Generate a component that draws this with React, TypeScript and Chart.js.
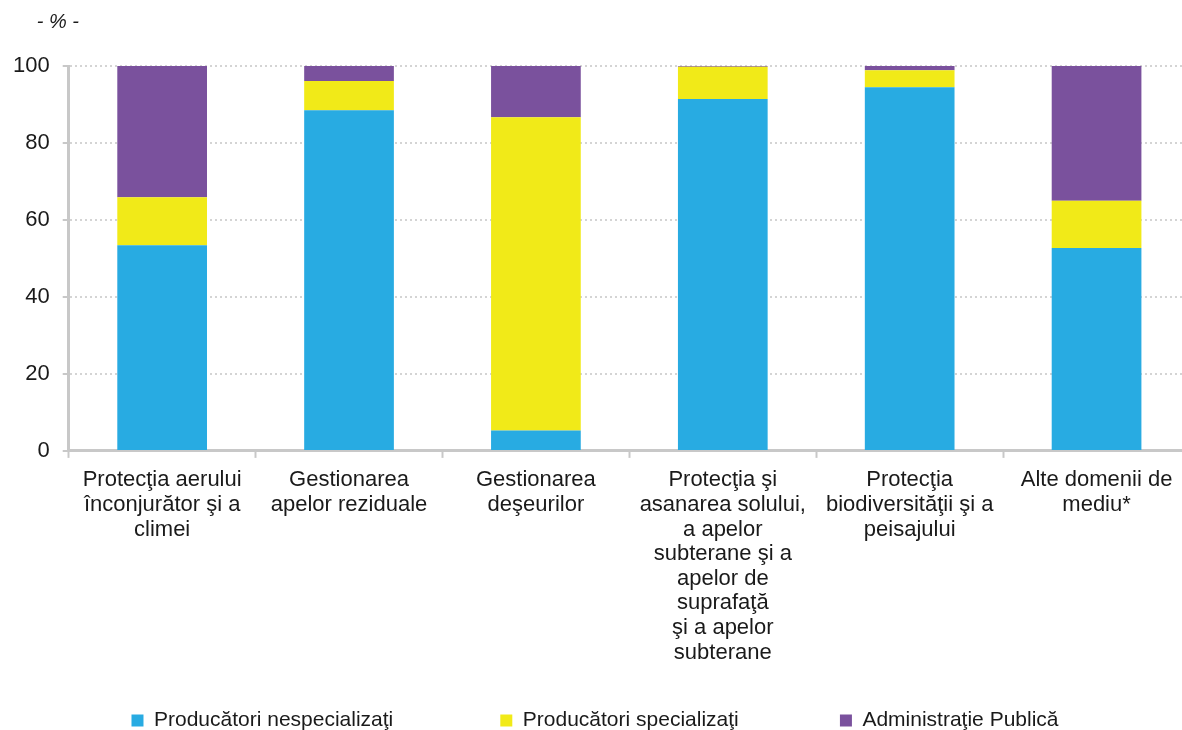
import React, { useEffect, useRef } from "react";
import { Chart, registerables } from "chart.js";

Chart.register(...registerables);

const categories: string[][] = [
  ["Protecţia aerului", "înconjurător şi a", "climei"],
  ["Gestionarea", "apelor reziduale"],
  ["Gestionarea", "deşeurilor"],
  ["Protecţia şi", "asanarea solului,", "a apelor", "subterane şi a", "apelor de", "suprafaţă", "şi a apelor", "subterane"],
  ["Protecţia", "biodiversităţii şi a", "peisajului"],
  ["Alte domenii de", "mediu*"],
];

const seriesNames = ["Producători nespecializaţi", "Producători specializaţi", "Administraţie Publică"];
const nespecializati = [53.4, 88.5, 5.3, 91.4, 94.5, 52.7];
const specializati = [12.5, 7.6, 81.4, 8.4, 4.4, 12.3];
const administratie = [34.1, 3.9, 13.3, 0.2, 1.1, 35.0];
const yTicks = [0, 20, 40, 60, 80, 100];
const unitLabel = "- % -";

const FONT = '"Liberation Sans", Arial, Helvetica, sans-serif';
const legendTrailing = [18, 17, 0];

export default function App() {
  const ref = useRef<HTMLCanvasElement | null>(null);

  useEffect(() => {
    if (!ref.current) return;
    const unitPlugin = {
      id: "unitLabel",
      afterDraw(chart: any) {
        const ctx = chart.ctx;
        ctx.save();
        ctx.font = `italic 20px ${FONT}`;
        ctx.fillStyle = "#1a1a1a";
        ctx.textBaseline = "middle";
        ctx.textAlign = "left";
        ctx.fillText(unitLabel, chart.chartArea.left - 32, 22);
        ctx.restore();
      },
    };
    const chart = new Chart(ref.current, {
      type: "bar",
      data: {
        labels: categories,
        datasets: [
          { label: seriesNames[0], data: nespecializati, backgroundColor: "#28ABE2" },
          { label: seriesNames[1], data: specializati, backgroundColor: "#F1EA18" },
          { label: seriesNames[2], data: administratie, backgroundColor: "#7A519D" },
        ],
      },
      options: {
        responsive: false,
        animation: false,
        devicePixelRatio: 1,
        layout: { padding: { top: 66, left: 0, right: 5, bottom: -11 } },
        datasets: { bar: { categoryPercentage: 1, barPercentage: 0.48 } },
        plugins: {
          tooltip: { enabled: false },
          title: { display: false },
          legend: {
            position: "bottom",
            labels: {
              boxWidth: 12,
              boxHeight: 12,
              padding: 2,
              color: "#1a1a1a",
              font: { family: FONT, size: 21 },
              generateLabels(chart: any) {
                const items = Chart.defaults.plugins.legend.labels.generateLabels(chart);
                return items.map((it: any, i: number) => ({
                  ...it,
                  text: it.text + "\u00A0".repeat(legendTrailing[i] || 0),
                  lineWidth: 0,
                }));
              },
            },
          },
        },
        scales: {
          x: {
            stacked: true,
            afterFit(scale: any) {
              scale.height += 33;
            },
            grid: {
              display: true,
              drawOnChartArea: false,
              drawTicks: true,
              offset: true,
              tickLength: 7,
              tickColor: "#c8c8c8",
              tickWidth: 2,
            },
            border: { display: true, color: "#c8c8c8", width: 3 },
            ticks: {
              color: "#1a1a1a",
              padding: 10,
              maxRotation: 0,
              autoSkip: false,
              font: { family: FONT, size: 22, lineHeight: 1.12 },
            },
          },
          y: {
            stacked: true,
            min: 0,
            max: 100,
            afterBuildTicks(scale: any) {
              scale.ticks = yTicks.map((v) => ({ value: v }));
            },
            grid: {
              color: "#d4d4d4",
              lineWidth: 2,
              tickLength: 6,
              tickColor: "#c8c8c8",
              tickWidth: 2,
              tickBorderDash: [],
            },
            border: { display: true, color: "#c8c8c8", width: 3, dash: [2, 3] },
            ticks: {
              color: "#1a1a1a",
              padding: 13,
              font: { family: FONT, size: 22 },
            },
          },
        },
      },
      plugins: [unitPlugin],
    });
    return () => chart.destroy();
  }, []);

  return (
    <div
      style={{
        position: "absolute",
        left: 0,
        top: 0,
        width: 1182,
        height: 730,
        overflow: "hidden",
        background: "#ffffff",
      }}
    >
      <canvas ref={ref} width={1195} height={730} style={{ display: "block" }} />
    </div>
  );
}
